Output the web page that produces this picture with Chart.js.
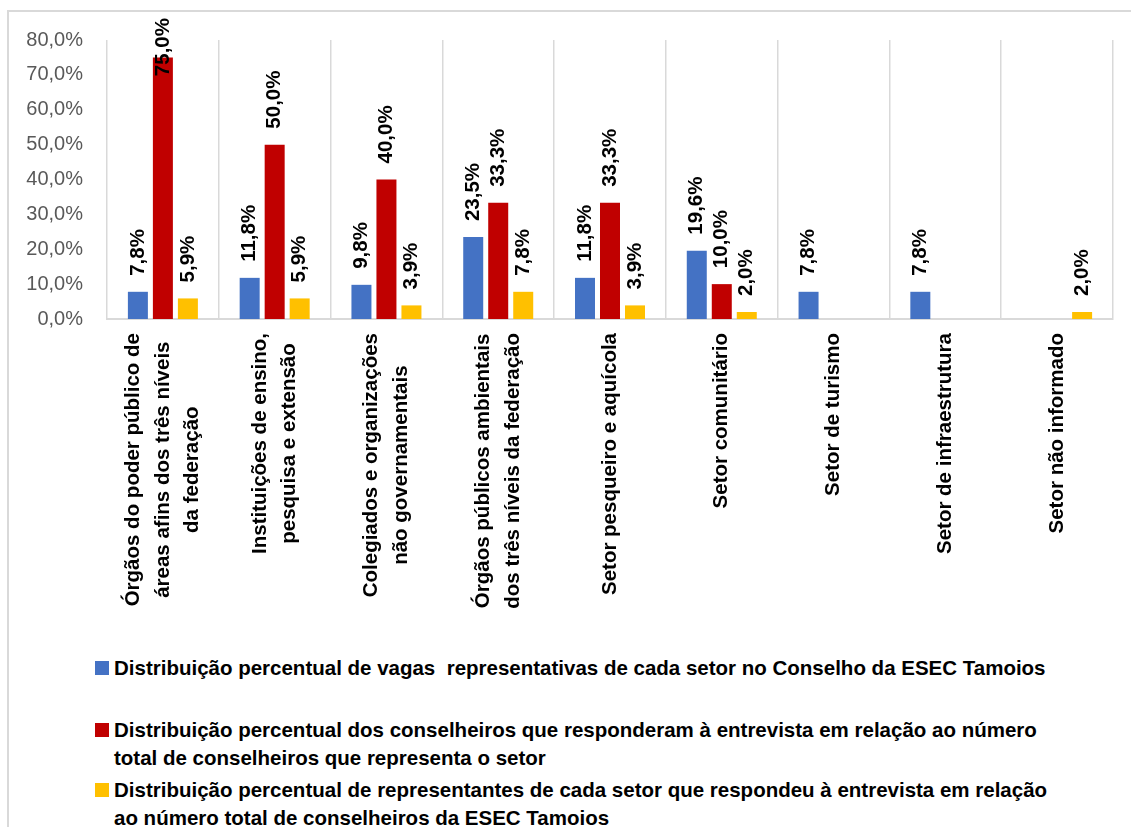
<!DOCTYPE html>
<html lang="pt">
<head>
    <meta charset="UTF-8">
    <title>Distribuição percentual por setor - Conselho da ESEC Tamoios</title>
    <script src="https://cdn.jsdelivr.net/npm/chart.js"></script>
    <style>
        html, body {
            margin: 0;
            width: 1131px;
            height: 827px;
            overflow: hidden;
            background: #fff;
            font-family: 'Liberation Sans', Arial, sans-serif;
        }
        .frame {
            position: absolute;
            left: 7px;
            top: 10px;
            width: 1200px;
            height: 900px;
            border: 2px solid #d9d9d9;
            box-sizing: border-box;
        }
        .chart-box {
            position: absolute;
            left: 0;
            top: 0;
            width: 1131px;
            height: 640px;
        }
        .legend-item {
            position: absolute;
            left: 114px;
            font-weight: bold;
            font-size: 20.5px;
            line-height: 28px;
            color: #000;
            white-space: pre;
        }
        .legend-item .swatch {
            position: absolute;
            left: -19px;
            top: 7px;
            width: 14px;
            height: 14px;
        }
    </style>
</head>
<body>
    <div class="frame"></div>
    <div class="chart-box">
        <canvas id="setorChart"></canvas>
    </div>
    <div id="legend"></div>

    <script>
        // Sectors (x axis), one array of lines per category
        const categories = [
            ['Órgãos do poder público de', 'áreas afins dos três níveis', 'da federação'],
            ['Instituições de ensino,', 'pesquisa e extensão'],
            ['Colegiados e organizações', 'não governamentais'],
            ['Órgãos públicos ambientais', 'dos três níveis da federação'],
            ['Setor pesqueiro e aquícola'],
            ['Setor comunitário'],
            ['Setor de turismo'],
            ['Setor de infraestrutura'],
            ['Setor não informado']
        ];

        // Percent values per series (null = no bar)
        const vagas = [7.8, 11.8, 9.8, 23.5, 11.8, 19.6, 7.8, 7.8, null];
        const respSetor = [75.0, 50.0, 40.0, 33.3, 33.3, 10.0, null, null, null];
        const respTotal = [5.9, 5.9, 3.9, 7.8, 3.9, 2.0, null, null, 2.0];

        const seriesNames = [
            ['Distribuição percentual de vagas  representativas de cada setor no Conselho da ESEC Tamoios'],
            ['Distribuição percentual dos conselheiros que responderam à entrevista em relação ao número',
             'total de conselheiros que representa o setor'],
            ['Distribuição percentual de representantes de cada setor que respondeu à entrevista em relação',
             'ao número total de conselheiros da ESEC Tamoios']
        ];
        const seriesColors = ['#4472C4', '#C00000', '#FFC000'];

        // y axis range and step
        const yMax = 80;
        const yStep = 10;

        const FONT = '"Liberation Sans", Arial, sans-serif';
        const pct = v => v.toFixed(1).replace('.', ',') + '%';

        // value labels, rotated, just above each bar (kept below the top margin)
        const barLabels = {
            id: 'barLabels',
            afterDatasetsDraw(chart) {
                const { ctx, chartArea } = chart;
                ctx.save();
                ctx.font = 'bold 20.5px ' + FONT;
                ctx.fillStyle = '#000';
                ctx.textAlign = 'left';
                ctx.textBaseline = 'middle';
                chart.data.datasets.forEach((ds, i) => {
                    chart.getDatasetMeta(i).data.forEach((bar, j) => {
                        const v = ds.data[j];
                        if (v == null) return;
                        const txt = pct(v);
                        const w = ctx.measureText(txt).width;
                        const ceiling = chartArea.top - 22;
                        let y = bar.y - 16;
                        if (y - w < ceiling) y = ceiling + w;
                        ctx.save();
                        ctx.translate(bar.x, y);
                        ctx.rotate(-Math.PI / 2);
                        ctx.fillText(txt, 0, 0);
                        ctx.restore();
                    });
                });
                ctx.restore();
            }
        };

        // rotated multi-line category names, lines centred on each other
        const categoryLabels = {
            id: 'categoryLabels',
            afterDraw(chart) {
                const { ctx, chartArea } = chart;
                const xs = chart.scales.x;
                const lineH = 29.5;
                ctx.save();
                ctx.font = 'bold 20.5px ' + FONT;
                ctx.fillStyle = '#000';
                ctx.textAlign = 'center';
                ctx.textBaseline = 'middle';
                categories.forEach((lines, i) => {
                    const x = xs.getPixelForValue(i);
                    const w = Math.max(...lines.map(l => ctx.measureText(l).width));
                    ctx.save();
                    ctx.translate(x, chartArea.bottom + 14 + w / 2);
                    ctx.rotate(-Math.PI / 2);
                    lines.forEach((l, k) => {
                        ctx.fillText(l, 0, (k - (lines.length - 1) / 2) * lineH);
                    });
                    ctx.restore();
                });
                ctx.restore();
            }
        };

        const ctx = document.getElementById('setorChart').getContext('2d');
        new Chart(ctx, {
            type: 'bar',
            data: {
                labels: categories.map(c => c.join(' ')),
                datasets: [vagas, respSetor, respTotal].map((data, i) => ({
                    label: seriesNames[i].join(' '),
                    data: data,
                    backgroundColor: seriesColors[i]
                }))
            },
            options: {
                responsive: true,
                maintainAspectRatio: false,
                animation: false,
                layout: { padding: { left: 25, top: 40, right: 18, bottom: 321 } },
                datasets: { bar: { categoryPercentage: 0.671, barPercentage: 0.8 } },
                plugins: {
                    legend: { display: false },
                    tooltip: { enabled: false }
                },
                scales: {
                    x: {
                        grid: { offset: true, color: '#d9d9d9', lineWidth: 1.5, drawTicks: false },
                        border: { color: '#d9d9d9', width: 2 },
                        ticks: { display: false },
                        afterFit: s => { s.height = 0; }
                    },
                    y: {
                        min: 0,
                        max: yMax,
                        grid: { display: false, drawTicks: false },
                        border: { display: false },
                        ticks: {
                            stepSize: yStep,
                            padding: 24,
                            color: '#595959',
                            font: { family: FONT, size: 20 },
                            callback: v => pct(v)
                        },
                        afterFit: s => { s.width = 82; }
                    }
                }
            },
            plugins: [barLabels, categoryLabels]
        });

        // legend below the chart, one block per series
        const legendTops = [654, 715.5, 776];
        const legend = document.getElementById('legend');
        seriesNames.forEach((lines, i) => {
            const item = document.createElement('div');
            item.className = 'legend-item';
            item.style.top = legendTops[i] + 'px';
            const sw = document.createElement('span');
            sw.className = 'swatch';
            sw.style.background = seriesColors[i];
            item.appendChild(sw);
            item.appendChild(document.createTextNode(lines.join('\n')));
            legend.appendChild(item);
        });
    </script>
</body>
</html>
